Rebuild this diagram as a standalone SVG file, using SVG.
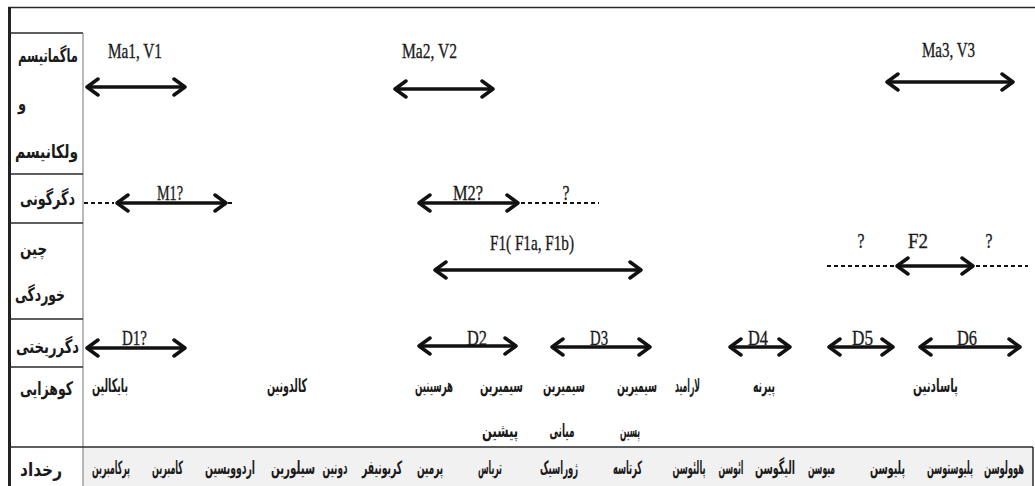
<svg xmlns="http://www.w3.org/2000/svg" width="1035" height="486" viewBox="0 0 1035 486">
<style>
.fa{font-family:"DejaVu Sans",sans-serif;font-weight:bold;font-size:13px;fill:#1a1a1a;text-anchor:middle}
.fb{font-family:"DejaVu Sans",sans-serif;font-weight:bold;font-size:12px;fill:#1a1a1a;text-anchor:middle}
.fc{font-family:"DejaVu Sans",sans-serif;font-weight:bold;font-size:10.5px;fill:#1a1a1a;text-anchor:middle}
.lt{font-family:"Liberation Serif",serif;font-size:21px;fill:#1a1a1a;stroke:#1a1a1a;stroke-width:0.35;text-anchor:middle}
.frame{stroke:#2a2a2a;stroke-width:1.5;fill:none}
.thin{stroke:#777;stroke-width:1;fill:none}
.arr{stroke:#111;stroke-width:3.5;fill:none;marker-start:url(#hd);marker-end:url(#hd)}
.dash{stroke:#111;stroke-width:2;fill:none;stroke-dasharray:4 3}
</style>
<defs>
<marker id="hd" viewBox="-16 -11 18 22" markerUnits="userSpaceOnUse" markerWidth="18" markerHeight="22" refX="0" refY="0" orient="auto-start-reverse">
<path d="M-11,-8 L0,0 L-11,8" fill="none" stroke="#111" stroke-width="3.5" stroke-linejoin="round" stroke-linecap="round"/>
</marker>
</defs>
<rect x="0" y="0" width="1035" height="486" fill="#fff"/>
<rect x="83" y="447" width="950" height="39" fill="#f1f1f1"/>
<g id="frame">
<line class="frame" x1="8" y1="7.5" x2="1035" y2="7.5"/>
<line x1="9.5" y1="7" x2="9.5" y2="486" stroke="#222" stroke-width="3"/>
<line class="frame" x1="11" y1="33" x2="83" y2="33"/>
<line class="thin" x1="83" y1="33" x2="83" y2="486"/>
<line class="frame" x1="11" y1="174" x2="83" y2="174"/>
<line class="frame" x1="11" y1="223" x2="83" y2="223"/>
<line class="frame" x1="11" y1="319" x2="83" y2="319"/>
<line class="frame" x1="11" y1="367" x2="83" y2="367"/>
<line class="frame" x1="11" y1="447" x2="1033" y2="447"/>
<line class="frame" x1="1033" y1="447" x2="1033" y2="486"/>
</g>
<g id="row-labels">
<text class="fa" transform="translate(48,62) scale(1,1.45)" textLength="60" lengthAdjust="spacingAndGlyphs">ماگماتیسم</text>
<text class="fa" transform="translate(22,110) scale(1,1.45)">و</text>
<text class="fa" transform="translate(46.5,158) scale(1,1.45)" textLength="63" lengthAdjust="spacingAndGlyphs">ولکانیسم</text>
<text class="fa" transform="translate(47.5,205) scale(1,1.45)" textLength="55" lengthAdjust="spacingAndGlyphs">دگرگونی</text>
<text class="fa" transform="translate(33.5,255) scale(1,1.45)" textLength="27" lengthAdjust="spacingAndGlyphs">چین</text>
<text class="fa" transform="translate(40,301) scale(1,1.45)" textLength="50" lengthAdjust="spacingAndGlyphs">خوردگی</text>
<text class="fa" transform="translate(47.5,353) scale(1,1.45)" textLength="63" lengthAdjust="spacingAndGlyphs">دگرریختی</text>
<text class="fa" transform="translate(46.5,395) scale(1,1.45)" textLength="53" lengthAdjust="spacingAndGlyphs">کوهزایی</text>
<text class="fa" transform="translate(41,476) scale(1,1.45)" textLength="42" lengthAdjust="spacingAndGlyphs">رخداد</text>
</g>
<g id="connectors">
<line class="arr" x1="87" y1="87" x2="185" y2="87"/>
<line class="arr" x1="395" y1="89" x2="493" y2="89"/>
<line class="arr" x1="887" y1="82" x2="1013" y2="82"/>
<line class="dash" x1="84" y1="203" x2="114" y2="203"/>
<line class="arr" x1="117" y1="203" x2="226" y2="203"/>
<line class="dash" x1="228" y1="203" x2="234" y2="203"/>
<line class="arr" x1="419" y1="203" x2="518" y2="203"/>
<line class="dash" x1="521" y1="203" x2="599" y2="203"/>
<line class="arr" x1="435" y1="270" x2="641" y2="270"/>
<line class="dash" x1="827" y1="266" x2="895" y2="266"/>
<line class="arr" x1="897" y1="266" x2="973" y2="266"/>
<line class="dash" x1="976" y1="266" x2="1028" y2="266"/>
<line class="arr" x1="87" y1="348" x2="185" y2="348"/>
<line class="arr" x1="419" y1="346" x2="516" y2="346"/>
<line class="arr" x1="552" y1="347" x2="650" y2="347"/>
<line class="arr" x1="730" y1="347" x2="790" y2="347"/>
<line class="arr" x1="829" y1="347" x2="893" y2="347"/>
<line class="arr" x1="920" y1="347" x2="1020" y2="347"/>
</g>
<g id="magmatism">
<text class="lt" x="135" y="58" textLength="54" lengthAdjust="spacingAndGlyphs">Ma1, V1</text>
<text class="lt" x="429.5" y="58" textLength="55" lengthAdjust="spacingAndGlyphs">Ma2, V2</text>
<text class="lt" x="948.5" y="57" textLength="53" lengthAdjust="spacingAndGlyphs">Ma3, V3</text>
</g>
<g id="metamorphism">
<text class="lt" x="170" y="200" textLength="26" lengthAdjust="spacingAndGlyphs">M1?</text>
<text class="lt" x="468" y="200" textLength="30" lengthAdjust="spacingAndGlyphs">M2?</text>
<text class="lt" x="566" y="200" textLength="7" lengthAdjust="spacingAndGlyphs">?</text>
</g>
<g id="folding">
<text class="lt" x="532" y="250" textLength="84" lengthAdjust="spacingAndGlyphs">F1( F1a, F1b)</text>
<text class="lt" x="861" y="248" textLength="7" lengthAdjust="spacingAndGlyphs">?</text>
<text class="lt" x="918" y="248" textLength="20" lengthAdjust="spacingAndGlyphs">F2</text>
<text class="lt" x="989" y="248" textLength="7" lengthAdjust="spacingAndGlyphs">?</text>
</g>
<g id="deformation">
<text class="lt" x="134.5" y="345" textLength="25" lengthAdjust="spacingAndGlyphs">D1?</text>
<text class="lt" x="477" y="345" textLength="20" lengthAdjust="spacingAndGlyphs">D2</text>
<text class="lt" x="599" y="345" textLength="18" lengthAdjust="spacingAndGlyphs">D3</text>
<text class="lt" x="758" y="345" textLength="20" lengthAdjust="spacingAndGlyphs">D4</text>
<text class="lt" x="862.5" y="345" textLength="21" lengthAdjust="spacingAndGlyphs">D5</text>
<text class="lt" x="967" y="345" textLength="20" lengthAdjust="spacingAndGlyphs">D6</text>
</g>
<g id="orogeny">
<text class="fa" transform="translate(110,392) scale(1,1.45)" textLength="36" lengthAdjust="spacingAndGlyphs">بایکالین</text>
<text class="fa" transform="translate(287,392) scale(1,1.45)" textLength="40" lengthAdjust="spacingAndGlyphs">کالدونین</text>
<text class="fa" transform="translate(434,392) scale(1,1.45)" textLength="38" lengthAdjust="spacingAndGlyphs">هرسینین</text>
<text class="fa" transform="translate(501.5,392) scale(1,1.45)" textLength="43" lengthAdjust="spacingAndGlyphs">سیمیرین</text>
<text class="fa" transform="translate(500,437) scale(1,1.45)" textLength="36" lengthAdjust="spacingAndGlyphs">پیشین</text>
<text class="fa" transform="translate(564,392) scale(1,1.45)" textLength="42" lengthAdjust="spacingAndGlyphs">سیمیرین</text>
<text class="fa" transform="translate(562,437) scale(1,1.45)" textLength="25" lengthAdjust="spacingAndGlyphs">میانی</text>
<text class="fa" transform="translate(637,392) scale(1,1.45)" textLength="40" lengthAdjust="spacingAndGlyphs">سیمیرین</text>
<text class="fa" transform="translate(630,437) scale(1,1.45)" textLength="20" lengthAdjust="spacingAndGlyphs">پسین</text>
<text class="fa" transform="translate(687.5,392) scale(1,1.45)" textLength="25" lengthAdjust="spacingAndGlyphs">لارامید</text>
<text class="fa" transform="translate(764,392) scale(1,1.45)" textLength="22" lengthAdjust="spacingAndGlyphs">پیرنه</text>
<text class="fa" transform="translate(935.5,392) scale(1,1.45)" textLength="45" lengthAdjust="spacingAndGlyphs">پاسادنین</text>
</g>
<g id="periods">
<text class="fb" transform="translate(111,474) scale(1,1.55)" textLength="38" lengthAdjust="spacingAndGlyphs">پرکامبرین</text>
<text class="fb" transform="translate(167.5,474) scale(1,1.55)" textLength="31" lengthAdjust="spacingAndGlyphs">کامبرین</text>
<text class="fb" transform="translate(230,474) scale(1,1.55)" textLength="50" lengthAdjust="spacingAndGlyphs">اردوویسین</text>
<text class="fb" transform="translate(293,474) scale(1,1.55)" textLength="44" lengthAdjust="spacingAndGlyphs">سیلورین</text>
<text class="fb" transform="translate(335,474) scale(1,1.55)" textLength="25" lengthAdjust="spacingAndGlyphs">دونین</text>
<text class="fb" transform="translate(382,474) scale(1,1.55)" textLength="40" lengthAdjust="spacingAndGlyphs">کربونیفر</text>
<text class="fb" transform="translate(430,474) scale(1,1.55)" textLength="26" lengthAdjust="spacingAndGlyphs">پرمین</text>
<text class="fb" transform="translate(490,474) scale(1,1.55)" textLength="24" lengthAdjust="spacingAndGlyphs">تریاس</text>
<text class="fb" transform="translate(559,474) scale(1,1.55)" textLength="38" lengthAdjust="spacingAndGlyphs">ژوراسیک</text>
<text class="fb" transform="translate(627.5,474) scale(1,1.55)" textLength="29" lengthAdjust="spacingAndGlyphs">کرتاسه</text>
<text class="fb" transform="translate(689,474) scale(1,1.55)" textLength="33" lengthAdjust="spacingAndGlyphs">پالئوسن</text>
<text class="fb" transform="translate(731,474) scale(1,1.55)" textLength="25" lengthAdjust="spacingAndGlyphs">ائوسن</text>
<text class="fb" transform="translate(775,474) scale(1,1.55)" textLength="40" lengthAdjust="spacingAndGlyphs">الیگوسن</text>
<text class="fb" transform="translate(821.5,474) scale(1,1.55)" textLength="27" lengthAdjust="spacingAndGlyphs">میوسن</text>
<text class="fb" transform="translate(887.5,474) scale(1,1.55)" textLength="35" lengthAdjust="spacingAndGlyphs">پلیوسن</text>
<text class="fc" transform="translate(950,474) scale(1,1.75)" textLength="46" lengthAdjust="spacingAndGlyphs">پلیوستوسن</text>
<text class="fc" transform="translate(1004,474) scale(1,1.75)" textLength="40" lengthAdjust="spacingAndGlyphs">هوولوسن</text>
</g>
</svg>
